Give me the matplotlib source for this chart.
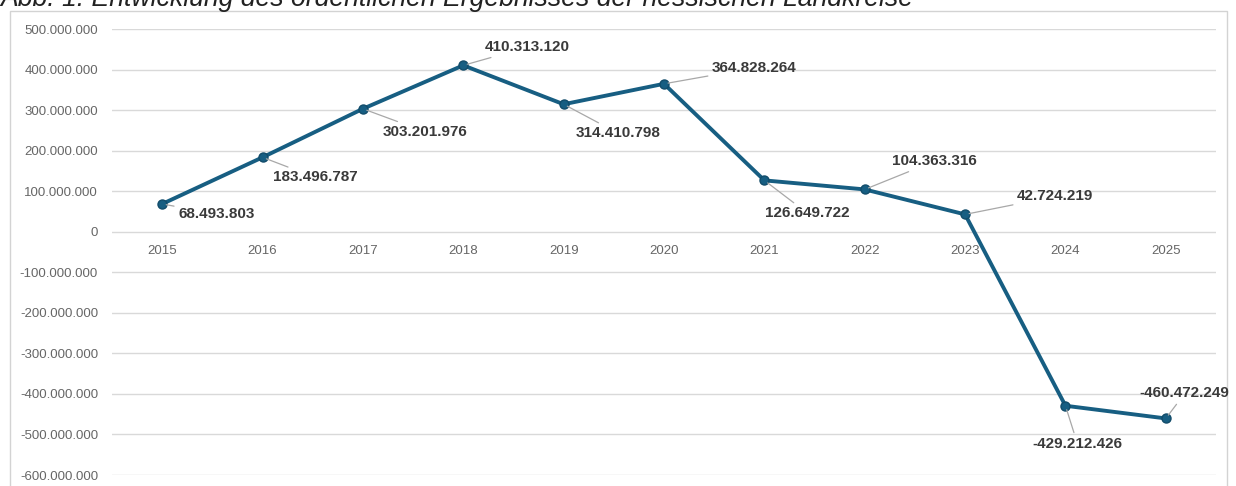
import matplotlib
matplotlib.use("Agg")
import matplotlib.pyplot as plt
from matplotlib.patches import Rectangle
from matplotlib.ticker import FuncFormatter

years = ["2015", "2016", "2017", "2018", "2019", "2020", "2021", "2022", "2023", "2024", "2025"]
values = [68493803, 183496787, 303201976, 410313120, 314410798, 364828264,
          126649722, 104363316, 42724219, -429212426, -460472249]
labels = ["68.493.803", "183.496.787", "303.201.976", "410.313.120", "314.410.798",
          "364.828.264", "126.649.722", "104.363.316", "42.724.219", "-429.212.426",
          "-460.472.249"]
title = "Abb. 1: Entwicklung des ordentlichen Ergebnisses der hessischen Landkreise"

# label offsets in pixels (dx, dy) relative to point
offsets = [(16, -10), (10, -20), (20, -23), (21, 18),
           (12, -29), (48, 16), (1, -33), (27, 28),
           (52, 18), (-33, -38), (-26, 25)]

plt.rcParams['font.family'] = ['Liberation Sans', 'DejaVu Sans']

fig = plt.figure(figsize=(12.36, 4.86), dpi=100)
ax = fig.add_axes([112/1236, 1-475/486, (1216-112)/1236, (475-29)/486])
ax.patch.set_alpha(0)

# frame
fig.patches.append(Rectangle((10/1236, -0.1), (1227-10)/1236, 1.1 - 11/486,
                             transform=fig.transFigure, fill=False,
                             edgecolor="#d3d3d3", linewidth=1.0, zorder=-1))
fig.text(0.0, 1-6/486, title, fontsize=19.2, style="italic", color="#222222",
         ha="left", va="baseline")

x = list(range(len(years)))
ax.plot(x, values, color="#175e82", linewidth=2.8, marker="o", markersize=6.5,
        markeredgecolor="#124c6a", markeredgewidth=1.0,
        zorder=3, solid_capstyle="round", solid_joinstyle="round")

for xi, v, lab, (dx, dy) in zip(x, values, labels, offsets):
    ax.annotate(lab, xy=(xi, v), xytext=(dx, dy), textcoords="offset pixels",
                ha="left", va="center", fontsize=11, fontweight="bold", color="#3a3a3a",
                arrowprops=dict(arrowstyle="-", color="#a8a8a8", lw=0.9,
                                shrinkA=1, shrinkB=3), zorder=4, annotation_clip=False)

ax.set_xlim(-0.5, 10.5)
ax.set_ylim(-600e6, 500e6)
ax.set_yticks([i * 100e6 for i in range(-6, 6)])
ax.yaxis.set_major_formatter(FuncFormatter(lambda v, p: f"{int(round(v)):,}".replace(",", ".")))
ax.grid(axis="y", color="#d9d9d9", linewidth=1.0, zorder=0)
ax.set_xticks([])
for s in ax.spines.values():
    s.set_visible(False)
ax.tick_params(axis="y", length=0, pad=10, labelsize=9.5, labelcolor="#666666")
for xi, y in zip(x, years):
    ax.annotate(y, xy=(xi, 0), xytext=(0, -19), textcoords="offset pixels",
                ha="center", va="center", fontsize=9.5, color="#666666")

fig.savefig("out.png", dpi=100)
